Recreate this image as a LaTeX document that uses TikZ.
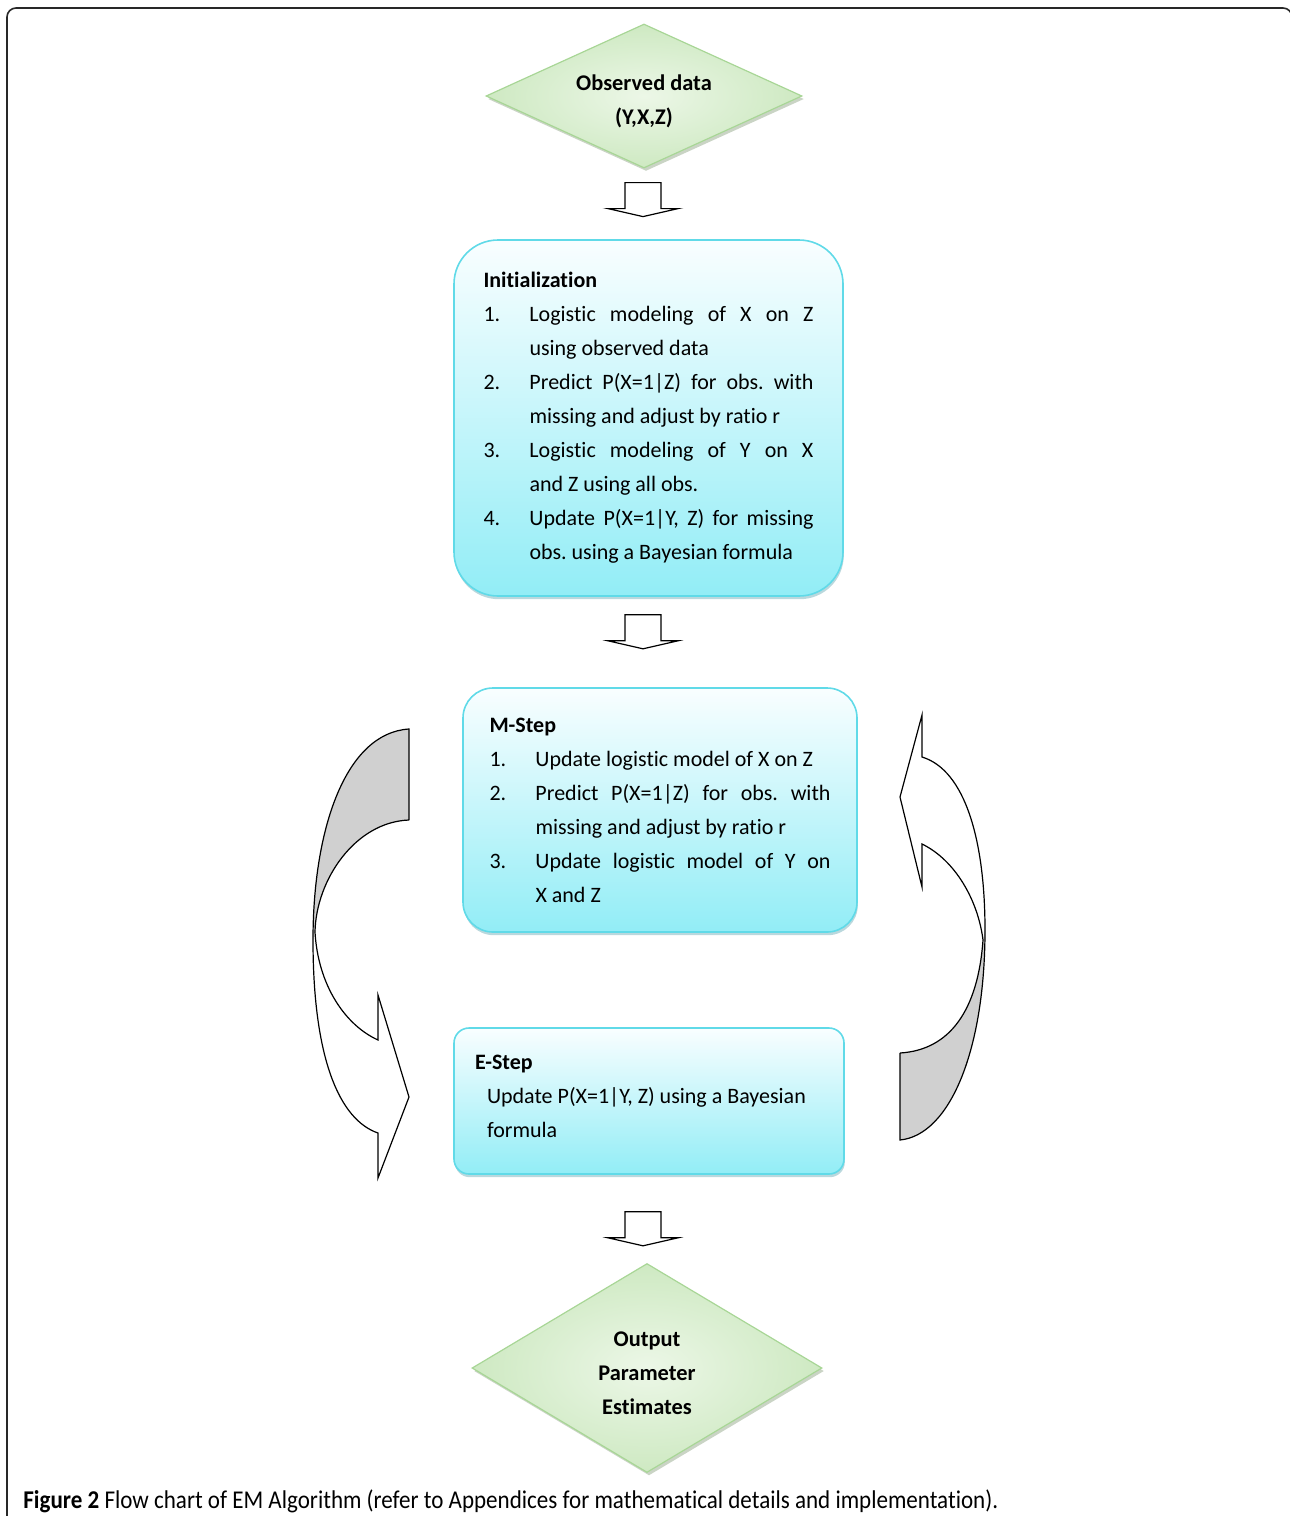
\documentclass[tikz,border=0pt]{standalone}
\usepackage{fontspec}
\setmainfont{Carlito}[Ligatures=NoCommon]
\newfontfamily\capfont{Carlito}[FakeStretch=0.9,Ligatures=NoCommon]
\usepackage{tikz}
\usetikzlibrary{shapes.geometric,shadows,calc}

\definecolor{boxtop}{RGB}{249,254,255}
\definecolor{boxbot}{RGB}{146,237,246}
\definecolor{boxline}{RGB}{96,218,232}
\definecolor{boxshade}{RGB}{140,190,198}
\definecolor{dialight}{RGB}{236,247,231}
\definecolor{diadark}{RGB}{206,233,194}
\definecolor{dialine}{RGB}{168,214,150}
\definecolor{diashade}{RGB}{150,170,140}
\definecolor{tailgray}{RGB}{208,208,208}
\definecolor{framegray}{RGB}{40,40,40}

\frenchspacing
\hyphenpenalty=10000
\exhyphenpenalty=10000

% one numbered step with hanging text
\newcommand{\emitem}[2]{\par\hangindent=23pt\hangafter=1\noindent\makebox[23pt][l]{#1}#2}
% pushes the first line of a diamond label down
\newcommand{\diastrut}{\rule{0pt}{13.4pt}}

\begin{document}
\begin{tikzpicture}[x=0.5pt, y=-0.5pt, font=\fontsize{11}{17}\selectfont,
	flowbox/.style={draw=boxline, line width=0.8pt, top color=boxtop, bottom color=boxbot, align=justify,
		drop shadow={shadow xshift=0.4pt, shadow yshift=-1.6pt, fill=boxshade, opacity=0.6}},
	datadia/.style={diamond, draw=dialine, line width=0.6pt, inner color=dialight, outer color=diadark,
		inner sep=0pt, align=center, font=\fontsize{11.2}{17}\selectfont\bfseries,
		drop shadow={shadow xshift=1pt, shadow yshift=-1.5pt, fill=diashade, opacity=0.5}},
	pics/blockdown/.style={code={
		\draw[line width=0.6pt, fill=white] (-18,0) -- (18,0) -- (18,26) -- (35,26) -- (0,34) -- (-35,26) -- (-18,26) -- cycle;}}]
	\useasboundingbox (0,0) rectangle (1290,1516);
	% frame
	\begin{scope}
	\clip (0,0) rectangle (1290,1516);
	\draw[framegray, line width=0.8pt, rounded corners=4.5pt] (7,1540) -- (7,8) -- (1292,8) -- (1292,1540);
	\end{scope}
	% flow
	\node[datadia, shape aspect=2.19, minimum width=158pt, minimum height=72pt] (obs) at (644,96) {\diastrut Observed data\\(Y,X,Z)};
	\node[flowbox, rounded corners=22pt, minimum width=194.5pt, minimum height=178pt, text width=165pt, inner xsep=14.75pt] (init) at (648.5,418) {%
		\noindent{\bfseries Initialization}
		\emitem{1.}{Logistic modeling of X on Z\linebreak using observed data}
		\emitem{2.}{Predict P(X=1|Z) for obs. with\linebreak missing and adjust by ratio r}
		\emitem{3.}{Logistic modeling of Y on X\linebreak and Z using all obs.}
		\emitem{4.}{Update P(X=1|Y, Z) for missing\linebreak obs. using a Bayesian formula}\par};
	\node[flowbox, rounded corners=15pt, minimum width=197pt, minimum height=122pt, text width=170.5pt, inner xsep=13.25pt] (mstep) at (660,810) {%
		\noindent{\bfseries M-Step}
		\emitem{1.}{Update logistic model of X on Z}
		\emitem{2.}{Predict P(X=1|Z) for obs. with\linebreak missing and adjust by ratio r}
		\emitem{3.}{Update logistic model of Y on\linebreak X and Z}\par};
	\node[flowbox, rounded corners=7.5pt, minimum width=195pt, minimum height=73pt, text width=174pt, inner xsep=10.5pt] (estep) at (649,1101) {%
		\noindent{\bfseries E-Step}\par
		{\leftskip=6pt\noindent Update P(X=1|Y, Z) using a Bayesian\\formula\rule[-5pt]{0pt}{1pt}\par}};
	\node[datadia, shape aspect=1.67, minimum width=175pt, minimum height=104.5pt] (out) at (647,1368) {\rule{0pt}{12.4pt}Output\\Parameter\\Estimates};
	\pic at ($(obs.south)+(-1,14)$) {blockdown};
	\pic at ($(init.south)+(-5.5,18)$) {blockdown};
	\pic at ($(estep.south)+(-6,37)$) {blockdown};
	% loop arrows
	\fill[tailgray] (409,729) .. controls (345,733) and (313,830) .. (313,940) -- (315,932) .. controls (316,880) and (355,822) .. (409,820) -- cycle;
	\draw[line width=0.6pt] (409,820) -- (409,729) .. controls (345,733) and (313,830) .. (313,940) .. controls (313,1060) and (340,1120) .. (378,1133) -- (378,1178) -- (409,1097) -- (378,995) -- (378,1040) .. controls (345,1025) and (318,985) .. (315,932) .. controls (316,880) and (355,822) .. (409,820);
	\fill[tailgray] (983,940) .. controls (978,1010) and (950,1050) .. (900,1053) -- (900,1140) .. controls (950,1135) and (985,1050) .. (985,930) -- cycle;
	\draw[line width=0.6pt] (900,1053) -- (900,1140) .. controls (950,1135) and (985,1050) .. (985,930) .. controls (985,840) and (965,770) .. (922,757) -- (922,715) -- (900,797) -- (922,887) -- (922,844) .. controls (955,860) and (978,900) .. (983,940) .. controls (978,1010) and (950,1050) .. (900,1053);
	% caption
	\node[anchor=base west, inner sep=0pt, font=\capfont\fontsize{12.8}{15}\selectfont] (caption) at (23,1508) {\textbf{Figure 2} Flow chart of EM Algorithm (refer to Appendices for mathematical details and implementation).};
\end{tikzpicture}
\end{document}
